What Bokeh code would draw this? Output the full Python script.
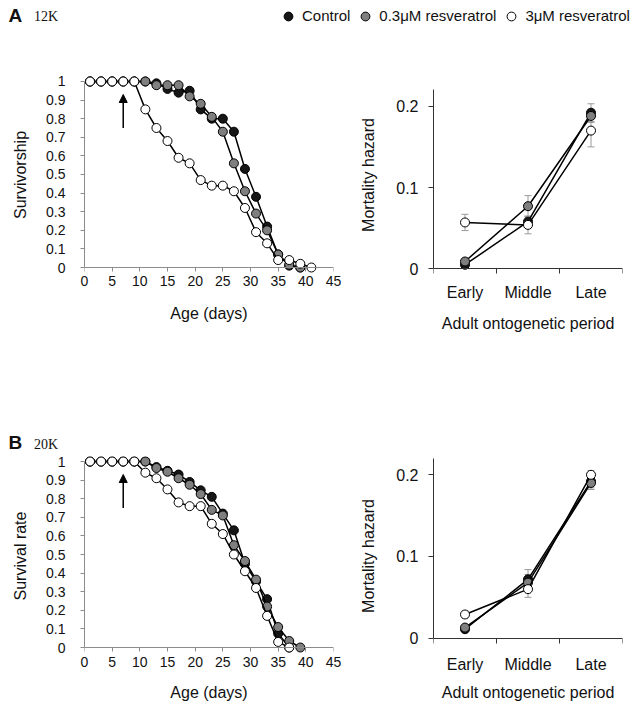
from bokeh.plotting import figure
from bokeh.models import (Range1d, FixedTicker, NumeralTickFormatter, Label, Legend, LegendItem,
                          Arrow, NormalHead, Whisker, TeeHead, ColumnDataSource, LinearAxis)
from bokeh.layouts import column, row
from bokeh.embed import file_html
from bokeh.resources import INLINE

# ------------------------------------------------------------------ data
series_names = ["Control", "0.3\u03bcM resveratrol", "3\u03bcM resveratrol"]

# Panel A (12K) survivorship
days_A_ctrl = [1, 3, 5, 7, 9, 11, 13, 15, 17, 19, 21, 23, 25, 27, 29, 31, 33, 35, 37, 39]
surv_A_ctrl = [1, 1, 1, 1, 1, 1.0, 0.99, 0.96, 0.94, 0.95, 0.85, 0.80, 0.80, 0.73, 0.53, 0.38, 0.22, 0.07, 0.01, 0.0]
days_A_low = [1, 3, 5, 7, 9, 11, 13, 15, 17, 19, 21, 23, 25, 27, 29, 31, 33, 35, 37, 39]
surv_A_low = [1, 1, 1, 1, 1, 1.0, 0.98, 0.98, 0.98, 0.92, 0.88, 0.81, 0.73, 0.56, 0.41, 0.29, 0.20, 0.07, 0.015, 0.0]
days_A_high = [1, 3, 5, 7, 9, 11, 13, 15, 17, 19, 21, 23, 25, 27, 29, 31, 33, 35, 37, 39, 41]
surv_A_high = [1, 1, 1, 1, 1, 0.85, 0.75, 0.68, 0.59, 0.56, 0.47, 0.44, 0.44, 0.41, 0.32, 0.19, 0.13, 0.04, 0.04, 0.02, 0.0]

# Panel B (20K) survival rate
days_B_ctrl = [1, 3, 5, 7, 9, 11, 13, 15, 17, 19, 21, 23, 25, 27, 29, 31, 33, 35, 37]
surv_B_ctrl = [1, 1, 1, 1, 1, 1.0, 0.97, 0.95, 0.93, 0.89, 0.845, 0.81, 0.72, 0.63, 0.45, 0.355, 0.26, 0.075, 0.0]
days_B_low = [1, 3, 5, 7, 9, 11, 13, 15, 17, 19, 21, 23, 25, 27, 29, 31, 33, 35, 37, 39]
surv_B_low = [1, 1, 1, 1, 1, 1.0, 0.965, 0.945, 0.91, 0.875, 0.825, 0.74, 0.71, 0.55, 0.465, 0.365, 0.22, 0.11, 0.035, 0.0]
days_B_high = [1, 3, 5, 7, 9, 11, 13, 15, 17, 19, 21, 23, 25, 27, 29, 31, 33, 35, 37]
surv_B_high = [1, 1, 1, 1, 1, 0.94, 0.91, 0.85, 0.78, 0.76, 0.76, 0.665, 0.61, 0.50, 0.41, 0.32, 0.17, 0.03, 0.0]

# Mortality hazard by adult ontogenetic period
periods = ["Early", "Middle", "Late"]
haz_A_ctrl = [0.005, 0.058, 0.192]
err_A_ctrl = [0.002, 0.006, 0.011]
haz_A_low = [0.009, 0.077, 0.188]
err_A_low = [0.002, 0.013, 0.008]
haz_A_high = [0.057, 0.054, 0.170]
err_A_high = [0.010, 0.011, 0.020]

haz_B_ctrl = [0.011, 0.072, 0.192]
err_B_ctrl = [0.002, 0.012, 0.008]
haz_B_low = [0.013, 0.068, 0.190]
err_B_low = [0.003, 0.010, 0.008]
haz_B_high = [0.029, 0.060, 0.200]
err_B_high = [0.004, 0.010, 0.005]

age_ticks = [0, 5, 10, 15, 20, 25, 30, 35, 40, 45]
surv_ticks = [0, 0.1, 0.2, 0.3, 0.4, 0.5, 0.6, 0.7, 0.8, 0.9, 1.0]
haz_ticks = [0, 0.1, 0.2]
HAZ_TOP = 0.22

# treatment start arrow (day, from, to)
ARROW_DAY = 7
ARROW_FROM = 0.75
ARROW_TO = 0.93

# ------------------------------------------------------------------ style
FONT = "Liberation Sans"
SERIF = "Liberation Serif"
FILLS = ["#161616", "#7f7f7f", "#ffffff"]
TXT = "#111111"
SURV_AXIS = "#8c8c8c"
HAZ_AXIS = "#333333"


def style_axis(ax, color, tick_size, label_size):
    ax.axis_line_color = color
    ax.axis_line_width = 1
    ax.major_tick_line_color = color
    ax.minor_tick_line_color = None
    ax.major_tick_in = 0
    ax.major_tick_out = 4
    ax.major_label_text_font = FONT
    ax.major_label_text_font_size = tick_size
    ax.major_label_text_color = TXT
    ax.axis_label_text_font = FONT
    ax.axis_label_text_font_size = label_size
    ax.axis_label_text_font_style = "normal"
    ax.axis_label_text_color = TXT


def zero_axis(p, ticks, color, bounds, tick_len):
    """Axis line + tick marks drawn at y = 0 (labels come from the bottom axis)."""
    ax = LinearAxis(ticker=FixedTicker(ticks=ticks, minor_ticks=[]), fixed_location=0,
                    bounds=bounds, axis_line_color=color, axis_line_width=1,
                    major_tick_line_color=color, major_tick_in=tick_len, major_tick_out=0,
                    minor_tick_line_color=None, major_label_text_font_size="0px",
                    major_label_text_alpha=0, major_label_standoff=0)
    p.add_layout(ax, "above")


def label_axis(ax, tick_size, label_size, text, standoff, label_standoff):
    style_axis(ax, None, tick_size, label_size)
    ax.axis_line_color = None
    ax.major_tick_line_color = None
    ax.major_tick_out = 0
    ax.axis_label = text
    ax.major_label_standoff = standoff
    ax.axis_label_standoff = label_standoff


def base_fig(width, height, bl, br, bt, bb, xr, yr):
    p = figure(width=width, height=height, x_range=xr, y_range=yr,
               output_backend="svg", toolbar_location=None,
               min_border_left=bl, min_border_right=br,
               min_border_top=bt, min_border_bottom=bb)
    p.outline_line_color = None
    p.xgrid.visible = False
    p.ygrid.visible = False
    return p


def header(height):
    h = figure(width=632, height=height, x_range=Range1d(0, 632), y_range=Range1d(0, height),
               output_backend="svg", toolbar_location=None, min_border=0,
               x_axis_location=None, y_axis_location=None)
    h.outline_line_color = None
    h.xgrid.visible = False
    h.ygrid.visible = False
    return h


def panel_tag(p, letter, tag, y_letter, y_tag):
    p.add_layout(Label(x=8, y=y_letter, text=letter, text_font=FONT, text_font_size="19px",
                       text_font_style="bold", text_color=TXT, text_baseline="bottom"))
    p.add_layout(Label(x=33.5, y=y_tag, text=tag, text_font=SERIF, text_font_size="14px",
                       text_color=TXT, text_baseline="bottom"))


def survival_panel(series, ylabel, height, bt, bb, y0, y1, xstand, xlabstand):
    p = base_fig(345, height, 84, 12, bt, bb, Range1d(0, 45), Range1d(y0, y1))
    zero_axis(p, age_ticks, SURV_AXIS, (0, 45), 4)
    ya = p.yaxis[0]
    xa = [a for a in p.below][0]
    label_axis(xa, "14px", "16px", "Age (days)", xstand, xlabstand)
    xa.ticker = FixedTicker(ticks=age_ticks, minor_ticks=[])
    style_axis(ya, SURV_AXIS, "14px", "16px")
    ya.ticker = FixedTicker(ticks=surv_ticks, minor_ticks=[])
    ya.bounds = (0, 1)
    ya.formatter = NumeralTickFormatter(format="0.[0]")
    ya.axis_label = ylabel
    ya.major_label_standoff = 15
    ya.axis_label_standoff = 14
    for (d, s), fill in zip(series, FILLS):
        p.line(d, s, line_color="black", line_width=1.5)
        p.scatter(d, s, marker="circle", size=9, fill_color=fill,
                  line_color="black", line_width=1)
    p.add_layout(Arrow(end=NormalHead(size=8, fill_color="black", line_color="black"),
                       x_start=ARROW_DAY, y_start=ARROW_FROM,
                       x_end=ARROW_DAY, y_end=ARROW_TO,
                       line_width=1.5, line_color="black"))
    return p


def hazard_panel(series, height, bt, bb, y0, y1, xstand, xlabstand):
    n = len(periods)
    p = base_fig(287, height, 88, 10, bt, bb, Range1d(0, n), Range1d(y0, y1))
    xpos = [i + 0.5 for i in range(n)]
    zero_axis(p, list(range(n + 1)), HAZ_AXIS, (0, n), 5)
    xa = [a for a in p.below][0]
    ya = p.yaxis[0]
    label_axis(xa, "16px", "16px", "Adult ontogenetic period", xstand, xlabstand)
    xa.ticker = FixedTicker(ticks=xpos, minor_ticks=[])
    xa.major_label_overrides = {x: lab for x, lab in zip(xpos, periods)}
    style_axis(ya, HAZ_AXIS, "16px", "16px")
    ya.ticker = FixedTicker(ticks=haz_ticks, minor_ticks=[])
    ya.bounds = (0, HAZ_TOP)
    ya.major_tick_out = 5
    ya.formatter = NumeralTickFormatter(format="0.[0]")
    ya.axis_label = "Mortality hazard"
    ya.major_label_standoff = 10
    ya.axis_label_standoff = 16
    for (vals, errs), fill in zip(series, FILLS):
        src = ColumnDataSource(dict(x=xpos, y=vals,
                                    lo=[v - e for v, e in zip(vals, errs)],
                                    hi=[v + e for v, e in zip(vals, errs)]))
        p.add_layout(Whisker(source=src, base="x", lower="lo", upper="hi",
                             line_color="#9a9a9a", line_width=1,
                             upper_head=TeeHead(size=7, line_color="#9a9a9a", line_width=1),
                             lower_head=TeeHead(size=7, line_color="#9a9a9a", line_width=1)))
    for (vals, errs), fill in zip(series, FILLS):
        p.line(xpos, vals, line_color="black", line_width=1.5)
        p.scatter(xpos, vals, marker="circle", size=9, fill_color=fill,
                  line_color="black", line_width=1)
    return p


# header A (legend + panel tag): 0..34
hA = header(34)
panel_tag(hA, "A", "12K", 9, 10.5)
items = []
for name, fill in zip(series_names, FILLS):
    r = hA.scatter(x=[float("nan")], y=[float("nan")], marker="circle", size=9, fill_color=fill,
                   line_color="black", line_width=1)
    items.append(LegendItem(label=name, renderers=[r]))
hA.add_layout(Legend(items=items, orientation="horizontal", location=(277, 7.5),
                     glyph_width=22, glyph_height=22, label_standoff=3, spacing=4,
                     padding=0, margin=0, border_line_color=None, background_fill_alpha=0,
                     label_text_font=FONT, label_text_font_size="15px", label_text_color=TXT))

# row A: 34..427 (frames 74..275)
pA1 = survival_panel([(days_A_ctrl, surv_A_ctrl), (days_A_low, surv_A_low), (days_A_high, surv_A_high)],
                     "Survivorship", 393, 40, 152, -0.043, 1.0376, 0, 16)
pA2 = hazard_panel([(haz_A_ctrl, err_A_ctrl), (haz_A_low, err_A_low), (haz_A_high, err_A_high)],
                   393, 40, 152, -0.00824, 0.239, 8, 11)

# header B (panel tag): 427..453
hB = header(26)
panel_tag(hB, "B", "20K", 0.5, 1.5)

# row B: 453..706 (frames 456..655)
pB1 = survival_panel([(days_B_ctrl, surv_B_ctrl), (days_B_low, surv_B_low), (days_B_high, surv_B_high)],
                     "Survival rate", 253, 3, 51, -0.043, 1.0269, 1, 14)
pB2 = hazard_panel([(haz_B_ctrl, err_B_ctrl), (haz_B_low, err_B_low), (haz_B_high, err_B_high)],
                   253, 3, 51, -0.0212, 0.2224, 0, 8)

layout = column(hA, row(pA1, pA2), hB, row(pB1, pB2))

open("out.html", "w").write(file_html(layout, INLINE))
